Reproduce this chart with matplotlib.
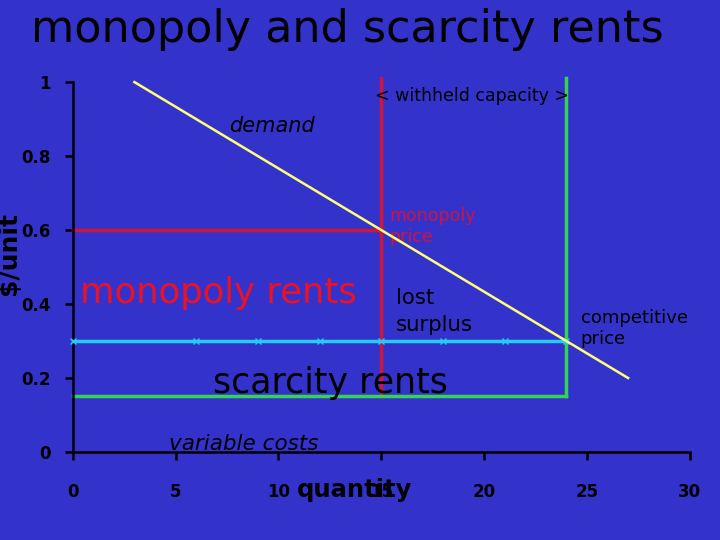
import numpy as np
import matplotlib
matplotlib.use("Agg")
from matplotlib import pyplot as plt

# demand curve endpoints (quantity, $/unit)
demand_q = [3, 27]
demand_p = [1.0, 0.2]

# monopoly: quantity 15, price 0.6
mono_q = 15
mono_p = 0.6
# competitive: quantity 24, price 0.3
comp_q = 24
comp_p = 0.3
var_cost = 0.15
cap_top = 1.01

# marker points along the competitive price line
comp_marks_q = [0, 6, 9, 12, 15, 18, 21, 24]

xticks = [0, 5, 10, 15, 20, 25, 30]
yticks = [0, 0.2, 0.4, 0.6, 0.8, 1]
yticklabels = ["0", "0.2", "0.4", "0.6", "0.8", "1"]

bg = "#3333cc"
red = "#d0143c"
green = "#33d455"
cyan = "#22ccff"
yellow = "#ffff77"

fig = plt.figure(figsize=(7.2, 5.4), dpi=100, facecolor=bg)
ax = fig.add_axes([0.101, 0.163, 0.857, 0.685], facecolor=bg)

ax.plot(demand_q, demand_p, color=yellow, lw=1.8, clip_on=False, zorder=4)

ax.plot([0, mono_q], [mono_p, mono_p], color=red, lw=2.5, clip_on=False)
ax.plot([mono_q, mono_q], [var_cost, cap_top], color=red, lw=2.5, clip_on=False)

ax.plot([0, comp_q], [var_cost, var_cost], color=green, lw=2.5, clip_on=False)
ax.plot([comp_q, comp_q], [var_cost, cap_top], color=green, lw=2.5, clip_on=False)

ax.plot(comp_marks_q, [comp_p] * len(comp_marks_q), color=cyan, lw=2.5,
        marker="x", ms=4, mew=1, clip_on=False, zorder=3)

ax.set_xlim(0, 30)
ax.set_ylim(0, 1)
for s in ["top", "right"]:
    ax.spines[s].set_visible(False)
for s in ["left", "bottom"]:
    ax.spines[s].set_color("black")
    ax.spines[s].set_linewidth(1.8)
ax.set_xticks(xticks)
ax.set_yticks(yticks)
ax.set_yticklabels(yticklabels)
ax.tick_params(direction="out", length=6, width=1.8, colors="black",
               labelsize=12, pad=16)
ax.tick_params(axis="y", pad=10)
for lab in ax.get_xticklabels() + ax.get_yticklabels():
    lab.set_fontweight("bold")

ax.text(7.6, 0.88, "demand", fontsize=15, style="italic", color="black",
        ha="left", va="center")
ax.text(19.4, 0.962, "< withheld capacity >", fontsize=12.5, color="black",
        ha="center", va="center")
ax.text(15.4, 0.61, "monopoly\nprice", fontsize=12.5, color=red,
        ha="left", va="center", linespacing=1.2)
ax.text(0.35, 0.43, "monopoly rents", fontsize=25.5, color="#ee1122",
        ha="left", va="center")
ax.text(15.7, 0.38, "lost\nsurplus", fontsize=15.3, color="black",
        ha="left", va="center", linespacing=1.4)
ax.text(24.7, 0.333, "competitive\nprice", fontsize=13, color="black",
        ha="left", va="center", linespacing=1.2)
ax.text(6.8, 0.186, "scarcity rents", fontsize=25, color="black",
        ha="left", va="center")
ax.text(4.7, 0.022, "variable costs", fontsize=15.5, style="italic",
        color="black", ha="left", va="center")

fig.text(0.482, 0.945, "monopoly and scarcity rents", fontsize=32,
         color="black", ha="center", va="center")
fig.text(0.493, 0.093, "quantity", fontsize=17.5, fontweight="bold",
         color="black", ha="center", va="center")
fig.text(0.012, 0.53, "$/unit", fontsize=18, fontweight="bold",
         color="black", ha="center", va="center", rotation=90)

fig.savefig("out.png", dpi=100, facecolor=bg)
